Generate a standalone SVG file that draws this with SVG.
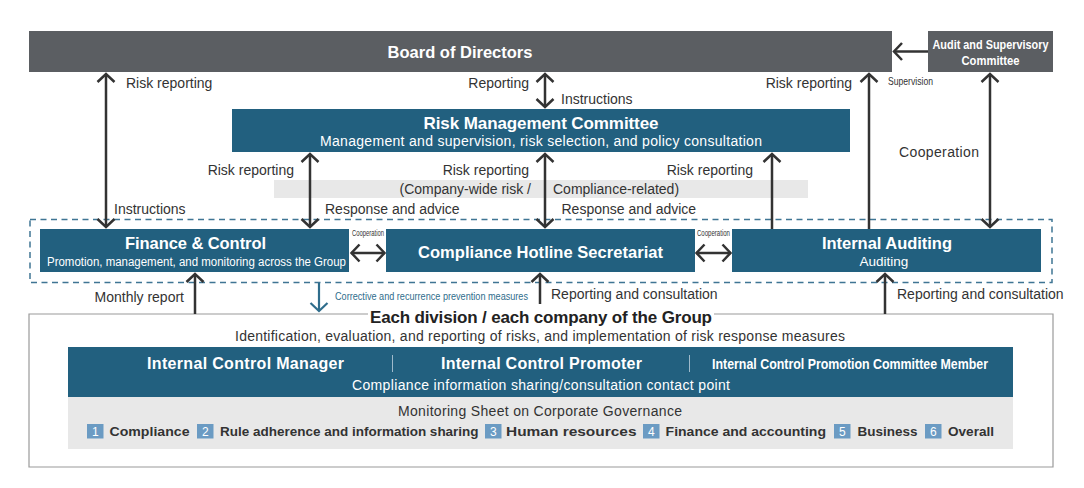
<svg xmlns="http://www.w3.org/2000/svg" width="1084" height="488" viewBox="0 0 1084 488">
<style>
text{font-family:"Liberation Sans",Arial,Helvetica,sans-serif;}
.lbl{font-size:14px;fill:#333;}
.wt{fill:#fff;}
.bd{font-weight:bold;}
.dark{fill:#5b5e62;}
.blue{fill:#22607f;}
.conn{stroke:#333;stroke-width:2.5;fill:none;}
.num{fill:#6b9bc3;}
.numt{font-size:12px;fill:#fff;text-anchor:middle;}
.item{font-size:13.5px;font-weight:bold;fill:#333;}
.coop{font-size:9px;fill:#333;text-anchor:middle;}
</style>
<defs>
<marker id="ah" viewBox="-12 -12 24 24" markerWidth="24" markerHeight="24" markerUnits="userSpaceOnUse" refX="0" refY="0" orient="auto-start-reverse">
<path d="M-8,-8.5 L0,0 L-8,8.5" fill="none" stroke="#333" stroke-width="2.5"/>
</marker>
<marker id="ahb" viewBox="-12 -12 24 24" markerWidth="24" markerHeight="24" markerUnits="userSpaceOnUse" refX="0" refY="0" orient="auto">
<path d="M-8,-8.5 L0,0 L-8,8.5" fill="none" stroke="#2f6d8c" stroke-width="2.2"/>
</marker>
</defs>
<rect width="1084" height="488" fill="#fff"/>

<!-- gray band -->
<g id="band">
<rect x="274" y="180" width="534" height="18" fill="#e8e8e8"/>
<text class="lbl" x="531" y="194" text-anchor="end">(Company-wide risk /</text>
<text class="lbl" x="553" y="194">Compliance-related)</text>
</g>

<!-- dashed group -->
<rect id="group-box" x="30" y="219.5" width="1022" height="63" fill="none" stroke="#3f7594" stroke-width="1.5" stroke-dasharray="6 4.5"/>

<g id="board">
<rect class="dark" x="29" y="31" width="863" height="41"/>
<text class="wt bd" x="460" y="58" font-size="16.5" text-anchor="middle">Board of Directors</text>
</g>
<g id="audit">
<rect class="dark" x="928" y="31" width="125" height="41"/>
<text class="wt bd" x="990.5" y="48.5" font-size="13.5" text-anchor="middle" textLength="116" lengthAdjust="spacingAndGlyphs">Audit and Supervisory</text>
<text class="wt bd" x="990.5" y="64.5" font-size="13.5" text-anchor="middle" textLength="58" lengthAdjust="spacingAndGlyphs">Committee</text>
</g>
<g id="rmc">
<rect class="blue" x="232" y="109" width="618" height="43"/>
<text class="wt bd" x="541" y="129" font-size="17" text-anchor="middle" textLength="235">Risk Management Committee</text>
<text class="wt" x="541" y="145.5" font-size="14" text-anchor="middle" textLength="442">Management and supervision, risk selection, and policy consultation</text>
</g>
<g id="finance">
<rect class="blue" x="40" y="229" width="309" height="43"/>
<text class="wt bd" x="195.5" y="249" font-size="16.5" text-anchor="middle" textLength="141">Finance &amp; Control</text>
<text class="wt" x="196.5" y="266" font-size="12.5" text-anchor="middle" textLength="299" lengthAdjust="spacingAndGlyphs">Promotion, management, and monitoring across the Group</text>
</g>
<g id="hotline">
<rect class="blue" x="386" y="229" width="309" height="43"/>
<text class="wt bd" x="540.5" y="257.5" font-size="16.5" text-anchor="middle" textLength="245">Compliance Hotline Secretariat</text>
</g>
<g id="internal-auditing">
<rect class="blue" x="732" y="229" width="309" height="43"/>
<text class="wt bd" x="887" y="249" font-size="16.5" text-anchor="middle" textLength="130">Internal Auditing</text>
<text class="wt" x="884" y="266" font-size="13.5" text-anchor="middle">Auditing</text>
</g>

<g id="divisions">
<path d="M368,314 H29 V467 H1053 V314 H714" fill="none" stroke="#9a9a9a" stroke-width="1.2"/>
<text class="bd" x="541" y="323" font-size="17" fill="#222" text-anchor="middle" textLength="342">Each division / each company of the Group</text>
<text class="lbl" x="540" y="340.5" text-anchor="middle" textLength="610">Identification, evaluation, and reporting of risks, and implementation of risk response measures</text>
<rect class="blue" x="68" y="347" width="945" height="50"/>
<text class="wt bd" x="245.5" y="369" font-size="16" text-anchor="middle" textLength="197">Internal Control Manager</text>
<line x1="392.5" y1="355" x2="392.5" y2="372" stroke="#9fbacb" stroke-width="1"/>
<text class="wt bd" x="541.5" y="369" font-size="16" text-anchor="middle" textLength="201">Internal Control Promoter</text>
<line x1="689.5" y1="355" x2="689.5" y2="372" stroke="#9fbacb" stroke-width="1"/>
<text class="wt bd" x="850" y="369" font-size="15" text-anchor="middle" textLength="276" lengthAdjust="spacingAndGlyphs">Internal Control Promotion Committee Member</text>
<text class="wt" x="541" y="390" font-size="14" text-anchor="middle" textLength="378">Compliance information sharing/consultation contact point</text>
<rect x="68" y="397" width="945" height="52" fill="#e8e8e8"/>
<text class="lbl" x="540" y="416" text-anchor="middle" textLength="284">Monitoring Sheet on Corporate Governance</text>
<rect class="num" x="87" y="424" width="16.5" height="14.5"/><text class="numt" x="95.25" y="435.5">1</text>
<text class="item" x="109.5" y="436" textLength="80" lengthAdjust="spacingAndGlyphs">Compliance</text>
<rect class="num" x="197" y="424" width="16.5" height="14.5"/><text class="numt" x="205.25" y="435.5">2</text>
<text class="item" x="220" y="436" textLength="258.6" lengthAdjust="spacingAndGlyphs">Rule adherence and information sharing</text>
<rect class="num" x="485" y="424" width="16.5" height="14.5"/><text class="numt" x="493.25" y="435.5">3</text>
<text class="item" x="506" y="436" textLength="130.5" lengthAdjust="spacingAndGlyphs">Human resources</text>
<rect class="num" x="643" y="424" width="16.5" height="14.5"/><text class="numt" x="651.25" y="435.5">4</text>
<text class="item" x="665.6" y="436" textLength="160.4" lengthAdjust="spacingAndGlyphs">Finance and accounting</text>
<rect class="num" x="834" y="424" width="16.5" height="14.5"/><text class="numt" x="842.25" y="435.5">5</text>
<text class="item" x="857.5" y="436" textLength="60" lengthAdjust="spacingAndGlyphs">Business</text>
<rect class="num" x="925" y="424" width="16.5" height="14.5"/><text class="numt" x="933.25" y="435.5">6</text>
<text class="item" x="948" y="436" textLength="46" lengthAdjust="spacingAndGlyphs">Overall</text>
</g>

<g id="connectors">
<line class="conn" x1="106" y1="74" x2="106" y2="227" marker-start="url(#ah)" marker-end="url(#ah)"/>
<line class="conn" x1="310" y1="154" x2="310" y2="227" marker-start="url(#ah)" marker-end="url(#ah)"/>
<line class="conn" x1="545" y1="74" x2="545" y2="107" marker-start="url(#ah)" marker-end="url(#ah)"/>
<line class="conn" x1="545" y1="154" x2="545" y2="227" marker-start="url(#ah)" marker-end="url(#ah)"/>
<line class="conn" x1="772" y1="229" x2="772" y2="154" marker-end="url(#ah)"/>
<line class="conn" x1="869" y1="229" x2="869" y2="74" marker-end="url(#ah)"/>
<line class="conn" x1="990" y1="74" x2="990" y2="227" marker-start="url(#ah)" marker-end="url(#ah)"/>
<line class="conn" x1="928" y1="51.5" x2="894" y2="51.5" marker-end="url(#ah)"/>
<line class="conn" x1="351.5" y1="253" x2="384.5" y2="253" marker-start="url(#ah)" marker-end="url(#ah)"/>
<line class="conn" x1="696.5" y1="253" x2="730.5" y2="253" marker-start="url(#ah)" marker-end="url(#ah)"/>
<line class="conn" x1="195" y1="314" x2="195" y2="274" marker-end="url(#ah)"/>
<line class="conn" x1="540" y1="304" x2="540" y2="274" marker-end="url(#ah)"/>
<line class="conn" x1="885" y1="314" x2="885" y2="274" marker-end="url(#ah)"/>
<line x1="319" y1="283" x2="319" y2="311" stroke="#2f6d8c" stroke-width="2.2" marker-end="url(#ahb)"/>
</g>

<g id="labels">
<text class="lbl" x="126" y="88">Risk reporting</text>
<text class="lbl" x="529" y="88" text-anchor="end">Reporting</text>
<text class="lbl" x="561" y="104">Instructions</text>
<text class="lbl" x="852" y="88" text-anchor="end">Risk reporting</text>
<text x="888" y="85" font-size="11" fill="#333" textLength="45" lengthAdjust="spacingAndGlyphs">Supervision</text>
<text class="lbl" x="899" y="157" textLength="80">Cooperation</text>
<text class="lbl" x="294" y="175" text-anchor="end">Risk reporting</text>
<text class="lbl" x="529" y="175" text-anchor="end">Risk reporting</text>
<text class="lbl" x="753" y="175" text-anchor="end">Risk reporting</text>
<text class="lbl" x="114" y="214">Instructions</text>
<text class="lbl" x="325" y="214">Response and advice</text>
<text class="lbl" x="561.5" y="214">Response and advice</text>
<text class="coop" x="368" y="235.5" textLength="32" lengthAdjust="spacingAndGlyphs">Cooperation</text>
<text class="coop" x="713.5" y="235.5" textLength="33" lengthAdjust="spacingAndGlyphs">Cooperation</text>
<text class="lbl" x="184" y="302" text-anchor="end">Monthly report</text>
<text x="335" y="300" font-size="11.5" fill="#2f6d8c" textLength="193" lengthAdjust="spacingAndGlyphs">Corrective and recurrence prevention measures</text>
<text class="lbl" x="551" y="299">Reporting and consultation</text>
<text class="lbl" x="897" y="299">Reporting and consultation</text>
</g>
</svg>
